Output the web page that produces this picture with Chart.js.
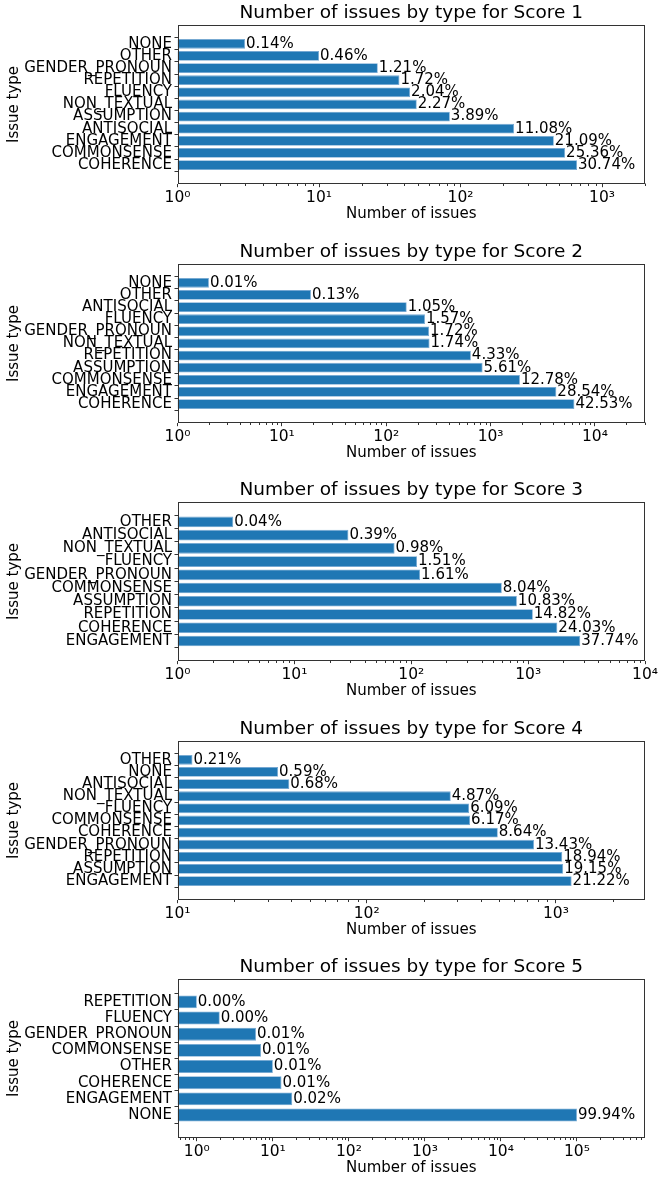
<!DOCTYPE html>
<html lang="en">
<head>
<meta charset="UTF-8">
<title>Number of issues by type</title>
<script src="https://cdn.jsdelivr.net/npm/chart.js"></script>
<style>
  html, body { margin: 0; padding: 0; background: #fff; overflow: hidden; }
  body { width: 665px; height: 1183px; position: relative; }
  .panel { position: absolute; left: 0; width: 665px; height: 239px; }
</style>
</head>
<body>
<script>
// one panel per score, categories listed top to bottom as drawn
const scores = [1, 2, 3, 4, 5];

const types1 = ['NONE', 'OTHER', 'GENDER_PRONOUN', 'REPETITION', 'FLUENCY', 'NON_TEXTUAL', 'ASSUMPTION', 'ANTISOCIAL', 'ENGAGEMENT', 'COMMONSENSE', 'COHERENCE'];
const counts1 = [3, 10, 26, 37, 44, 49, 84, 239, 456, 548, 665];
const shares1 = ['0.14%', '0.46%', '1.21%', '1.72%', '2.04%', '2.27%', '3.89%', '11.08%', '21.09%', '25.36%', '30.74%'];

const types2 = ['NONE', 'OTHER', 'ANTISOCIAL', 'FLUENCY', 'GENDER_PRONOUN', 'NON_TEXTUAL', 'REPETITION', 'ASSUMPTION', 'COMMONSENSE', 'ENGAGEMENT', 'COHERENCE'];
const counts2 = [2, 19, 157, 235, 257, 260, 647, 838, 1909, 4264, 6354];
const shares2 = ['0.01%', '0.13%', '1.05%', '1.57%', '1.72%', '1.74%', '4.33%', '5.61%', '12.78%', '28.54%', '42.53%'];

const types3 = ['OTHER', 'ANTISOCIAL', 'NON_TEXTUAL', 'FLUENCY', 'GENDER_PRONOUN', 'COMMONSENSE', 'ASSUMPTION', 'REPETITION', 'COHERENCE', 'ENGAGEMENT'];
const counts3 = [3, 29, 72, 112, 119, 595, 801, 1097, 1778, 2793];
const shares3 = ['0.04%', '0.39%', '0.98%', '1.51%', '1.61%', '8.04%', '10.83%', '14.82%', '24.03%', '37.74%'];

const types4 = ['OTHER', 'NONE', 'ANTISOCIAL', 'NON_TEXTUAL', 'FLUENCY', 'COMMONSENSE', 'COHERENCE', 'GENDER_PRONOUN', 'REPETITION', 'ASSUMPTION', 'ENGAGEMENT'];
const counts4 = [12, 34, 39, 278, 348, 352, 493, 766, 1081, 1093, 1211];
const shares4 = ['0.21%', '0.59%', '0.68%', '4.87%', '6.09%', '6.17%', '8.64%', '13.43%', '18.94%', '19.15%', '21.22%'];

const types5 = ['REPETITION', 'FLUENCY', 'GENDER_PRONOUN', 'COMMONSENSE', 'OTHER', 'COHERENCE', 'ENGAGEMENT', 'NONE'];
const counts5 = [1, 2, 6, 7, 10, 13, 18, 100000];
const shares5 = ['0.00%', '0.00%', '0.01%', '0.01%', '0.01%', '0.01%', '0.02%', '99.94%'];

// x axis limits of each panel (log scale)
const xMins = [1, 1, 1, 10, 0.557];
const xMaxs = [2010, 30150, 10000, 2958, 785000];

const allTypes = [types1, types2, types3, types4, types5];
const allCounts = [counts1, counts2, counts3, counts4, counts5];
const allShares = [shares1, shares2, shares3, shares4, shares5];

const FONT = '"DejaVu Sans", sans-serif';
const PANEL_STEP = 238.5;
const AXES_LEFT = 177.5;
const AXES_BOTTOM = 183.7;
const BAR_COLOR = '#1f77b4';
const SPINE = '#333333';

function sup(n) {
    const digits = '⁰¹²³⁴⁵⁶⁷⁸⁹';
    return String(n).split('').map(d => d === '-' ? '⁻' : digits[+d]).join('');
}

// percentage text at the end of each bar, plus frame and minor ticks
const barTextPlugin = {
    id: 'barText',
    afterDatasetsDraw(chart, args, opts) {
        const ctx = chart.ctx;
        const meta = chart.getDatasetMeta(0);
        ctx.save();
        ctx.font = '15px ' + FONT;
        ctx.fillStyle = '#000';
        ctx.textAlign = 'left';
        ctx.textBaseline = 'middle';
        meta.data.forEach((bar, i) => {
            ctx.fillText(opts.labels[i], bar.x + 1, bar.y);
        });
        ctx.restore();
    },
    afterDraw(chart) {
        const ctx = chart.ctx;
        const area = chart.chartArea;
        const xs = chart.scales.x;
        ctx.save();
        ctx.strokeStyle = SPINE;
        ctx.lineWidth = 1;
        const l = Math.round(area.left) + 0.5, r = Math.round(area.right) - 0.5;
        const t = Math.round(area.top) + 0.5, b = Math.round(area.bottom) - 0.5;
        ctx.strokeRect(l, t, r - l, b - t);
        // minor ticks at 2..9 x 10^n
        ctx.beginPath();
        const e0 = Math.floor(Math.log10(xs.min));
        const e1 = Math.ceil(Math.log10(xs.max));
        for (let e = e0; e <= e1; e++) {
            for (let k = 2; k <= 9; k++) {
                const v = k * Math.pow(10, e);
                if (v < xs.min || v > xs.max) continue;
                const px = Math.round(xs.getPixelForValue(v)) + 0.5;
                ctx.moveTo(px, b);
                ctx.lineTo(px, b + 2.5);
            }
        }
        ctx.stroke();
        ctx.restore();
    }
};

function makePanel(p) {
    const types = allTypes[p];
    const counts = allCounts[p];
    const shares = allShares[p];
    const n = types.length;
    const margin = 0.05 * (n - 1 + 0.8);

    const wrap = document.createElement('div');
    wrap.className = 'panel';
    wrap.style.top = (p * PANEL_STEP) + 'px';
    const canvas = document.createElement('canvas');
    wrap.appendChild(canvas);
    document.body.appendChild(wrap);

    new Chart(canvas.getContext('2d'), {
        type: 'bar',
        data: {
            datasets: [{
                data: counts.map((c, i) => ({ x: c, y: i })),
                backgroundColor: BAR_COLOR,
                borderColor: '#74a7d2',
                borderWidth: 0.8,
                barPercentage: 0.8,
                categoryPercentage: 1
            }]
        },
        options: {
            indexAxis: 'y',
            responsive: true,
            maintainAspectRatio: false,
            animation: false,
            layout: { padding: { left: 0, right: 20, top: 0, bottom: 0 } },
            plugins: {
                legend: { display: false },
                tooltip: { enabled: false },
                title: {
                    display: true,
                    text: 'Number of issues by type for Score ' + scores[p],
                    fullSize: false,
                    color: '#000',
                    font: { family: FONT, size: 18.5, weight: 'normal', lineHeight: 1.2 },
                    padding: { top: 2.5, bottom: 0.5 }
                },
                barText: { labels: shares }
            },
            scales: {
                x: {
                    type: 'logarithmic',
                    min: xMins[p],
                    max: xMaxs[p],
                    afterBuildTicks: axis => {
                        const ticks = [];
                        for (let e = Math.ceil(Math.log10(axis.min) - 1e-9); Math.pow(10, e) <= axis.max * (1 + 1e-9); e++) {
                            ticks.push({ value: Math.pow(10, e) });
                        }
                        axis.ticks = ticks;
                    },
                    afterFit: axis => { axis.height = axis.chart.height - AXES_BOTTOM; },
                    ticks: {
                        autoSkip: false,
                        maxRotation: 0,
                        padding: 1.5,
                        color: '#000',
                        font: { family: FONT, size: 15.5 },
                        callback: v => '10' + sup(Math.round(Math.log10(v)))
                    },
                    grid: { display: true, drawOnChartArea: false, drawTicks: true, tickLength: 3.5, color: SPINE },
                    border: { display: false },
                    title: {
                        display: true,
                        text: 'Number of issues',
                        color: '#000',
                        font: { family: FONT, size: 15, lineHeight: 1.2 },
                        padding: { top: 0, bottom: 15.5 }
                    }
                },
                y: {
                    type: 'linear',
                    reverse: true,
                    min: -0.4 - margin,
                    max: n - 1 + 0.4 + margin,
                    afterBuildTicks: axis => { axis.ticks = types.map((t, i) => ({ value: i })); },
                    afterFit: axis => { axis.width = AXES_LEFT; },
                    ticks: {
                        autoSkip: false,
                        padding: 2.5,
                        color: '#000',
                        font: { family: FONT, size: 15 },
                        callback: v => types[v]
                    },
                    grid: { display: true, drawOnChartArea: false, drawTicks: true, tickLength: 3, color: SPINE },
                    border: { display: false },
                    title: {
                        display: true,
                        text: 'Issue type',
                        color: '#000',
                        font: { family: FONT, size: 15, lineHeight: 1.2 },
                        padding: { top: 5, bottom: 0 }
                    }
                }
            }
        },
        plugins: [barTextPlugin]
    });
}

scores.forEach((s, p) => makePanel(p));
</script>
</body>
</html>
